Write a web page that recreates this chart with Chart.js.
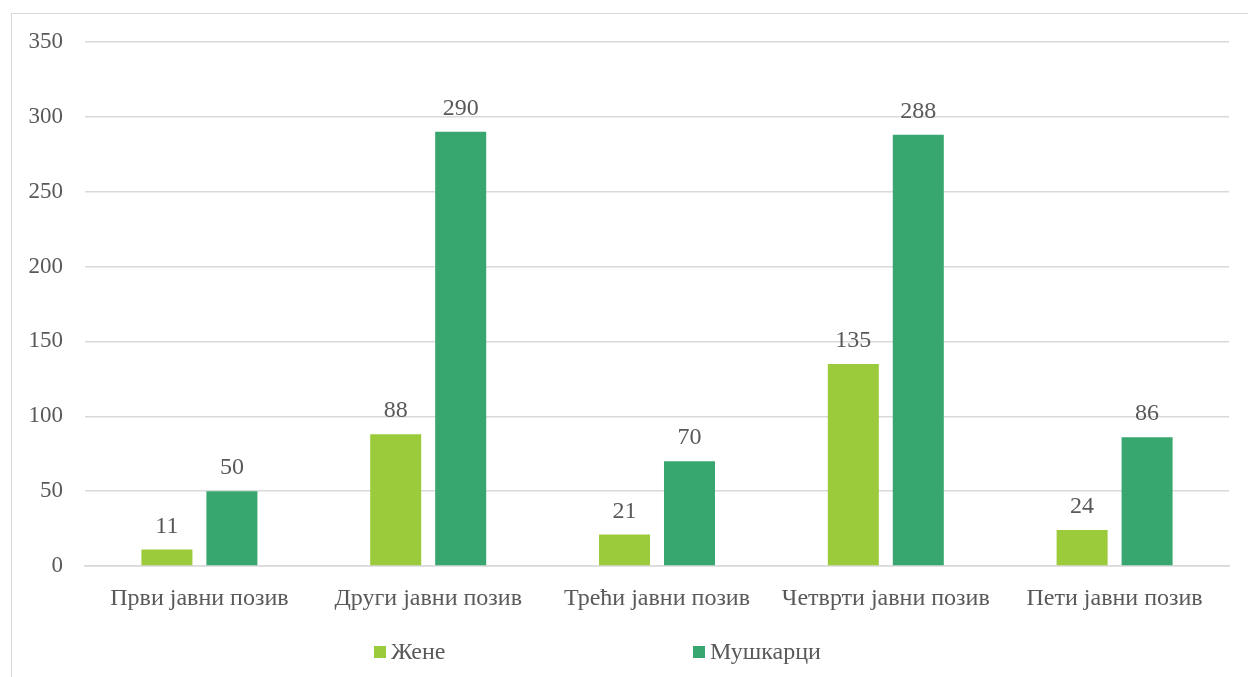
<!DOCTYPE html>
<html>
<head>
<meta charset="utf-8">
<script src="https://cdn.jsdelivr.net/npm/chart.js@4"></script>
<style>
  html, body { margin: 0; padding: 0; background: #fff; overflow: hidden; }
  #wrap { position: relative; width: 1248px; height: 677px; }
  #frame { position: absolute; left: 11px; top: 13px; width: 1300px; height: 700px; border: 1px solid #d9d9d9; box-sizing: border-box; }
  canvas { position: absolute; left: 0; top: 0; }
</style>
</head>
<body>
<div id="wrap">
  <div id="frame"></div>
  <canvas id="c" width="1248" height="677"></canvas>
</div>
<script>
const categories = ['Први јавни позив', 'Други јавни позив', 'Трећи јавни позив', 'Четврти јавни позив', 'Пети јавни позив'];
const zene = [11, 88, 21, 135, 24];
const muskarci = [50, 290, 70, 288, 86];
const seriesNames = ['Жене', 'Мушкарци'];
const seriesColors = ['#9BCB3B', '#37A76F'];
const yMax = 350;
const yStep = 50;

const FONT = "'Liberation Serif', 'Times New Roman', serif";
const TXT = '#595959';

const valueLabels = {
  id: 'valueLabels',
  afterDatasetsDraw(chart) {
    const ctx = chart.ctx;
    ctx.save();
    ctx.font = '24px ' + FONT;
    ctx.fillStyle = TXT;
    ctx.textAlign = 'center';
    ctx.textBaseline = 'alphabetic';
    chart.data.datasets.forEach((ds, i) => {
      chart.getDatasetMeta(i).data.forEach((bar, j) => {
        ctx.fillText(String(ds.data[j]), bar.x, bar.y - 17);
      });
    });
    ctx.restore();
  }
};

const customLegend = {
  id: 'customLegend',
  afterDraw(chart) {
    const ctx = chart.ctx;
    const starts = [374, 693];
    const y = 653;
    ctx.save();
    ctx.font = '24px ' + FONT;
    ctx.textBaseline = 'middle';
    ctx.textAlign = 'left';
    chart.data.datasets.forEach((ds, i) => {
      ctx.fillStyle = ds.backgroundColor;
      ctx.fillRect(starts[i], y - 7, 12, 12);
      ctx.fillStyle = TXT;
      ctx.fillText(ds.label, starts[i] + 17, y);
    });
    ctx.restore();
  }
};

new Chart(document.getElementById('c'), {
  type: 'bar',
  data: {
    labels: categories,
    datasets: [
      { label: seriesNames[0], data: zene, backgroundColor: seriesColors[0], categoryPercentage: 0.568, barPercentage: 0.785 },
      { label: seriesNames[1], data: muskarci, backgroundColor: seriesColors[1], categoryPercentage: 0.568, barPercentage: 0.785 }
    ]
  },
  options: {
    responsive: false,
    animation: false,
    devicePixelRatio: 1,
    layout: { padding: { top: 42, right: 19, bottom: 61, left: 0 } },
    plugins: { legend: { display: false }, tooltip: { enabled: false } },
    scales: {
      x: {
        grid: { display: false, drawTicks: false },
        border: { display: true, color: '#d9d9d9', width: 1.5 },
        ticks: { color: TXT, font: { family: FONT, size: 24 }, padding: 18, maxRotation: 0 },
        afterFit(s) { s.height = 50; }
      },
      y: {
        min: 0, max: yMax,
        grid: { color: '#d9d9d9', lineWidth: 1.5, drawTicks: false },
        border: { display: false },
        ticks: { stepSize: yStep, color: TXT, font: { family: FONT, size: 23 }, padding: 22 },
        afterFit(s) { s.width = 85; }
      }
    }
  },
  plugins: [valueLabels, customLegend]
});
</script>
</body>
</html>
